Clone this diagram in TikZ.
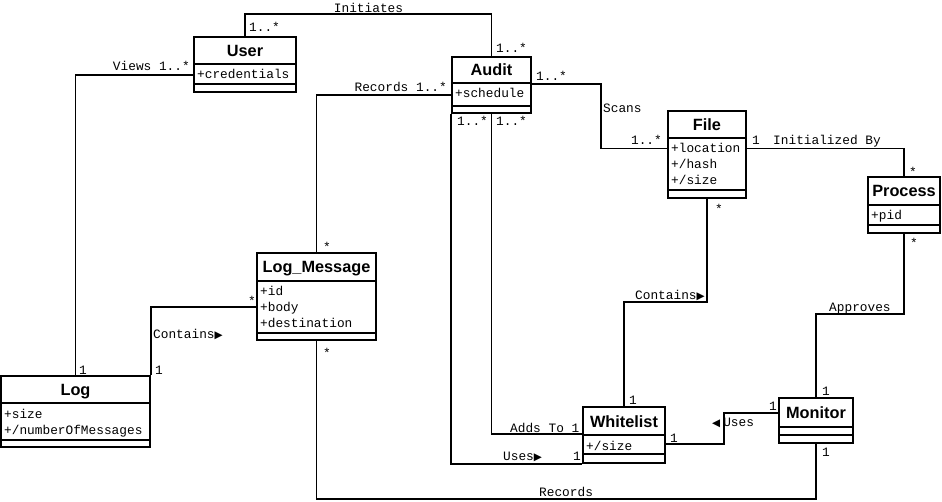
\documentclass[tikz,border=0pt]{standalone}
\usepackage{fontspec}
\setmainfont{Liberation Sans}
\newfontfamily\monof{Liberation Mono}
\newfontfamily\symf{DejaVu Sans}
\usetikzlibrary{fit}
\tikzset{
  classbox/.style={draw, line width=1.8pt, inner sep=0pt},
  sepline/.style={line width=1.8pt},
  classtitle/.style={font=\fontsize{16.3}{18}\selectfont\bfseries, anchor=base, inner sep=0pt},
  attrtext/.style={font=\monof\fontsize{12.8}{16}\selectfont, anchor=base west, inner sep=0pt},
  assoc/.style={line width=1.8pt},
  lbl/.style={font=\monof\fontsize{12.8}{16}\selectfont, inner sep=0pt, anchor=base west},
}
\newcommand\rtri{{\symf\fontsize{10.5}{10}\selectfont ▶}}
\newcommand\ltri{{\symf\fontsize{10.5}{10}\selectfont ◀}}
% name, left, right, top, sep1, sep2, bottom, title, attrs
\newcommand\umlclass[9]{%
  \node[classbox, fit={(#2,#4) (#3,#7)}] (#1) {};
  \draw[sepline] (#2,#5) -- (#3,#5);
  \draw[sepline] (#2,#6) -- (#3,#6);
  \node[classtitle] (#1-t) at ({(#2+#3)/2},{(#4+#5)/2+6}) {#8};
  \foreach \a [count=\i] in {#9} {\node[attrtext] (#1-a\i) at ({#2+3},{#5+15+16*(\i-1)}) {\a};}
}
\begin{document}
\begin{tikzpicture}[x=1pt,y=-1pt]
\useasboundingbox (0,0) rectangle (942,502);
\fill[white] (0,0) rectangle (942,502);

\umlclass{user}{194}{296}{37}{64}{84}{92}{User}{+credentials}
\umlclass{audit}{452}{531}{57}{83}{106}{113}{Audit}{+schedule}
\umlclass{file}{668}{746}{111}{138}{190}{198}{File}{+location,+/hash,+/size}
\umlclass{process}{868}{940}{177}{205}{225}{233}{Process}{+pid}
\umlclass{lm}{257}{376}{253}{281}{333}{340}{Log\_Message}{+id,+body,+destination}
\umlclass{log}{1}{150}{376}{403}{440}{447}{Log}{+size,+/numberOfMessages}
\umlclass{wl}{583}{665}{407}{435}{454}{463}{Whitelist}{+/size}
\node[classbox, fit={(779,398) (853,443)}] (monitor) {};
\draw[sepline] (779,427) -- (853,427);
\draw[sepline] (779,435) -- (853,435);
\node[classtitle] (monitor-t) at (816,418.5) {Monitor};

% connectors
\draw[assoc] (user.north) -- ++(0,-22) -| (audit.north);
\draw[assoc] (log.north) |- ([yshift=-10.5pt]user.west);
\draw[assoc] (log.north east) |- ([yshift=-10.5pt]lm.west);
\draw[assoc] ([yshift=-10pt]audit.west) -| (lm.north);
\draw[assoc] ([yshift=1pt]audit.east) -- ++(69,0) |- ([yshift=6pt]file.west);
\draw[assoc] ([yshift=6pt]file.east) -| (process.north);
\draw[assoc] (audit.south) |- ([yshift=1pt]wl.west);
\draw[assoc] (audit.south west) |- (wl.south west);
\draw[assoc] (wl.north) -- ++(0,-104) -| (file.south);
\draw[assoc] ([yshift=-9pt]wl.east) -- ++(58,0) |- ([yshift=7.5pt]monitor.west);
\draw[assoc] (monitor.north) -- ++(0,-83) -| (process.south);
\draw[assoc] (lm.south) -- ++(0,158) -| (monitor.south);

% labels
\node[lbl, anchor=base] (l1) at (368.5,13) {Initiates};
\node[lbl] (l2) at (249,32) {1..*};
\node[lbl] (l3) at (496,53) {1..*};
\node[lbl, anchor=base east] (l4) at (447,92) {Records 1..*};
\node[lbl] (l5) at (536,81) {1..*};
\node[lbl] (l6) at (457,126) {1..*};
\node[lbl] (l7) at (496,126) {1..*};
\node[lbl, anchor=base east] (l8) at (190,71) {Views 1..*};
\node[lbl] (l9) at (603,113) {Scans};
\node[lbl, anchor=base east] (l10) at (662,145) {1..*};
\node[lbl] (l11) at (752,145) {1};
\node[lbl] (l12) at (773,145) {Initialized By};
\node[lbl] (l13) at (909,177) {*};
\node[lbl] (l14) at (715,214) {*};
\node[lbl] (l15) at (910,248) {*};
\node[lbl] (l16) at (323,252) {*};
\node[lbl] (l17) at (248,306) {*};
\node[lbl] (l18) at (153,339) {Contains\rtri};
\node[lbl] (l19) at (155,374) {1};
\node[lbl] (l20) at (79,374) {1};
\node[lbl] (l21) at (323,357) {*};
\node[lbl] (l22) at (635,300) {Contains\rtri};
\node[lbl] (l23) at (629,404) {1};
\node[lbl] (l24) at (510,432) {Adds To 1};
\node[lbl] (l25) at (503,460) {Uses\rtri};
\node[lbl] (l26) at (573,460) {1};
\node[lbl] (l27) at (670,442) {1};
\node[lbl] (l28) at (712,426) {\ltri\kern3pt Uses};
\node[lbl] (l29) at (769,410) {1};
\node[lbl] (l30) at (822,395) {1};
\node[lbl] (l31) at (822,456) {1};
\node[lbl] (l32) at (539,496) {Records};
\node[lbl] (l33) at (829,312) {Approves};
\end{tikzpicture}
\end{document}
